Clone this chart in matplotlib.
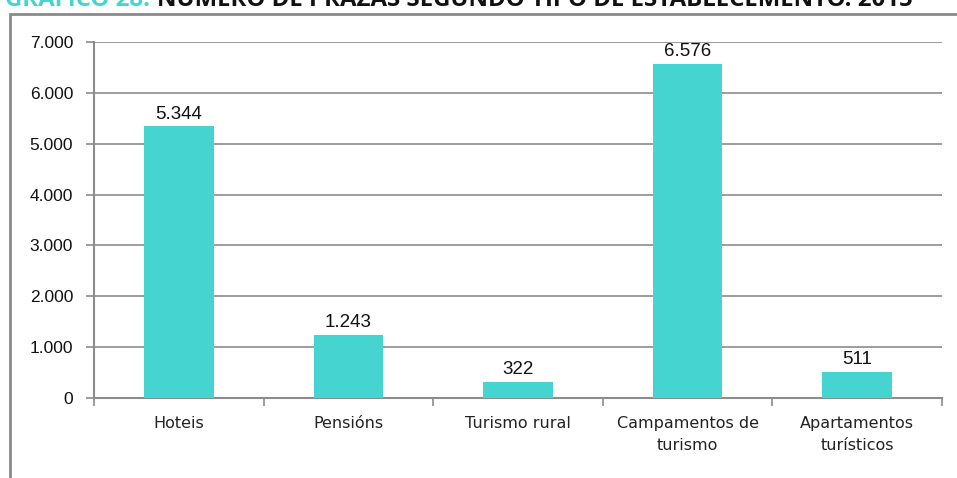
import matplotlib.pyplot as plt
from matplotlib.patches import Rectangle

categories = ["Hoteis", "Pensións", "Turismo rural",
              "Campamentos de\nturismo", "Apartamentos\nturísticos"]
prazas = [5344, 1243, 322, 6576, 511]
yticks = [0, 1000, 2000, 3000, 4000, 5000, 6000, 7000]

bar_color = "#45D4CF"
grid_color = "#8c8c8c"


def fmt(v):
    # thousands separator as a dot
    return f"{v:,}".replace(",", ".")


fig = plt.figure(figsize=(9.57, 4.78), dpi=100)

# outer frame round the chart
fig.patches.append(Rectangle((10 / 957, -0.1), 1.2, 1 - 14 / 478 + 0.1,
                             transform=fig.transFigure, fill=False,
                             edgecolor="#8a8a8a", linewidth=2))

# title, partly cut by the top edge
fig.text(5 / 957, 1.0, "GRÁFICO 28.", color="#45D4CF", fontsize=17.3,
         fontweight="bold", family="Open Sans", va="center", ha="left")
fig.text(157 / 957, 1.0, "NÚMERO DE PRAZAS SEGUNDO TIPO DE ESTABLECEMENTO. 2015",
         color="#111111", fontsize=17.3, fontweight="bold", family="Open Sans",
         va="center", ha="left")

ax = fig.add_axes([94 / 957, 1 - 398 / 478, 848 / 957, 356 / 478])
x = range(len(categories))
ax.bar(x, prazas, width=0.41, color=bar_color, zorder=3)

for i, v in enumerate(prazas):
    ax.text(i, v + 70, fmt(v), ha="center", va="bottom", fontsize=13.5,
            family="Liberation Sans", color="#111111")

ax.set_xlim(-0.5, len(categories) - 0.5)
ax.set_ylim(0, 7000)
ax.set_yticks(yticks)
ax.set_yticklabels([fmt(t) for t in yticks], family="Liberation Sans",
                   fontsize=12.5, color="#111111")
ax.yaxis.grid(True, color=grid_color, linewidth=1.2, zorder=0)

# category ticks sit between the bars
ax.set_xticks([i - 0.5 for i in range(len(categories) + 1)], minor=False)
ax.set_xticklabels([])
ax.set_xticks(list(x), minor=True)
ax.set_xticklabels(categories, minor=True, family="DejaVu Sans", fontsize=11.5,
                   color="#222222", linespacing=1.6)
ax.tick_params(axis="x", which="minor", length=0, pad=13)
ax.tick_params(axis="x", which="major", length=6, color=grid_color, width=1.2)
ax.tick_params(axis="y", length=6, color=grid_color, width=1.2, pad=9)

for side in ("top", "right"):
    ax.spines[side].set_visible(False)
for side in ("left", "bottom"):
    ax.spines[side].set_color(grid_color)
    ax.spines[side].set_linewidth(1.5)

fig.savefig("out.png", dpi=100)
